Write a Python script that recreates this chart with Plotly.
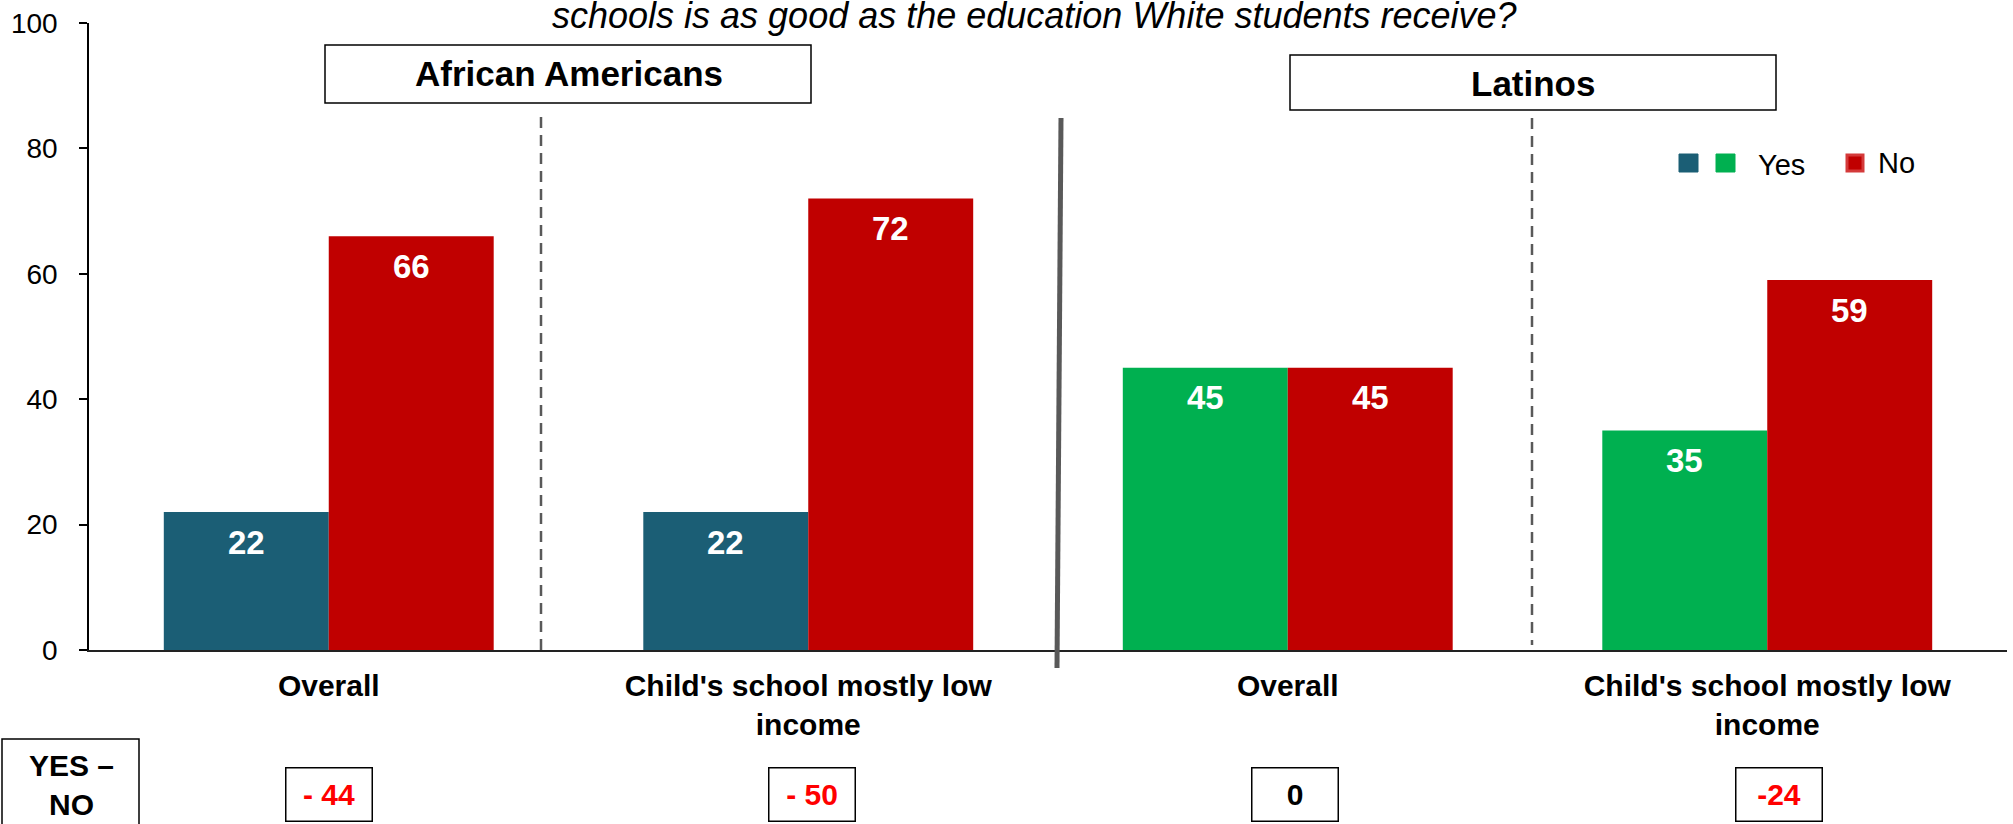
import plotly.graph_objects as go

# ---------------- data ----------------
categories = ["Overall", "Child's school mostly low<br>income", "Overall", "Child's school mostly low<br>income"]
groups = ["African Americans", "African Americans", "Latinos", "Latinos"]
yes_values = [22, 22, 45, 35]
no_values = [66, 72, 45, 59]
diff_labels = ["- 44", "- 50", "0", "-24"]
y_ticks = [0, 20, 40, 60, 80, 100]
title_text = "schools is as good as the education White students receive?"

# ---------------- styling ----------------
W, H = 2013, 824
ML, MR, MT, MB = 89, 6, 23, 174
FONT = "Liberation Sans, Arial, sans-serif"
TEAL = "#1b5e75"
GREEN = "#00b050"
RED = "#c00000"
BAR_GAP = 0.312
GRAY = "#595959"

yes_colors = [TEAL if g == "African Americans" else GREEN for g in groups]
xs = list(range(len(categories)))
half = (1 - BAR_GAP) / 4


def px(x):
    return (x - ML) / (W - ML - MR)


def py(y):
    return (H - MB - y) / (H - MT - MB)


fig = go.Figure()
fig.add_trace(go.Bar(x=xs, y=yes_values, name="Yes", marker=dict(color=yes_colors, line=dict(width=0)),
                     showlegend=False, hoverinfo="y"))
fig.add_trace(go.Bar(x=xs, y=no_values, name="No", marker=dict(color=RED, line=dict(width=0)),
                     showlegend=False, hoverinfo="y"))

annotations = []
# value labels inside bars
for i, (yv, nv) in enumerate(zip(yes_values, no_values)):
    for xv, v in ((i - half, yv), (i + half, nv)):
        annotations.append(dict(x=xv, y=v, xref="x", yref="y", text=f"<b>{v}</b>", showarrow=False,
                                yanchor="middle", yshift=-30,
                                font=dict(family=FONT, size=33, color="white")))

# difference boxes
for i, (yv, nv, lab) in enumerate(zip(yes_values, no_values, diff_labels)):
    d = yv - nv
    annotations.append(dict(x=i + 0.008 * i, y=py(794), xref="x", yref="paper", text=f"<b>{lab}</b>",
                            showarrow=False, xanchor="center", yanchor="middle",
                            width=83, height=50, borderpad=1, borderwidth=1.5, bordercolor="black",
                            bgcolor="white",
                            font=dict(family=FONT, size=30, color="#ff0000" if d < 0 else "black")))

# YES – NO box text
annotations.append(dict(x=px(71), y=py(785), xref="paper", yref="paper", text="<b>YES –<br>NO</b>",
                        showarrow=False, xanchor="center", yanchor="middle",
                        font=dict(family=FONT, size=30, color="black")))

# title (second line visible)
annotations.append(dict(x=px(1034), y=py(15), xref="paper", yref="paper", text=f"<i>{title_text}</i>",
                        showarrow=False, xanchor="center", yanchor="middle",
                        font=dict(family=FONT, size=36, color="black")))

# group headers
annotations.append(dict(x=0.5, y=py(74), xref="x", yref="paper", text="<b>African Americans</b>",
                        showarrow=False, xanchor="center", yanchor="middle",
                        font=dict(family=FONT, size=35, color="black")))
annotations.append(dict(x=2.512, y=py(83), xref="x", yref="paper", text="<b>Latinos</b>",
                        showarrow=False, xanchor="center", yanchor="middle",
                        font=dict(family=FONT, size=35, color="black")))

# legend text
annotations.append(dict(x=px(1756), y=py(165), xref="paper", yref="paper", text="Yes",
                        showarrow=False, xanchor="left", yanchor="middle",
                        font=dict(family=FONT, size=29, color="black")))
annotations.append(dict(x=px(1876), y=py(163), xref="paper", yref="paper", text="No",
                        showarrow=False, xanchor="left", yanchor="middle",
                        font=dict(family=FONT, size=29, color="black")))

shapes = [
    # header boxes
    dict(type="rect", xref="paper", yref="paper", x0=px(325), x1=px(811), y0=py(103), y1=py(45),
         line=dict(color="black", width=1.5), fillcolor="white", layer="below"),
    dict(type="rect", xref="paper", yref="paper", x0=px(1290), x1=px(1776), y0=py(110), y1=py(55),
         line=dict(color="black", width=1.5), fillcolor="white", layer="below"),
    # separators
    dict(type="line", xref="paper", yref="paper", x0=px(541), x1=px(541), y0=py(117), y1=py(657),
         line=dict(color=GRAY, width=2.5, dash="11px,7px")),
    dict(type="line", xref="paper", yref="paper", x0=px(1061), x1=px(1057), y0=py(118), y1=py(668),
         line=dict(color=GRAY, width=5)),
    dict(type="line", xref="paper", yref="paper", x0=px(1532), x1=px(1532), y0=py(118), y1=py(645),
         line=dict(color=GRAY, width=2.5, dash="11px,7px")),
    # YES – NO box
    dict(type="rect", xref="paper", yref="paper", x0=px(2), x1=px(139), y0=py(835), y1=py(739),
         line=dict(color="black", width=1.5)),
    # legend swatches
    dict(type="rect", xref="paper", yref="paper", x0=px(1679), x1=px(1698), y0=py(172), y1=py(154),
         line=dict(color=TEAL, width=1), fillcolor=TEAL),
    dict(type="rect", xref="paper", yref="paper", x0=px(1716), x1=px(1735), y0=py(172), y1=py(154),
         line=dict(color=GREEN, width=1), fillcolor=GREEN),
    dict(type="rect", xref="paper", yref="paper", x0=px(1847), x1=px(1863), y0=py(171), y1=py(155),
         line=dict(color="#d43a3a", width=3), fillcolor=RED),
]

fig.update_layout(
    width=W, height=H,
    margin=dict(l=ML, r=MR, t=MT, b=MB, pad=0),
    paper_bgcolor="white", plot_bgcolor="white",
    barmode="group", bargap=BAR_GAP, bargroupgap=0,
    showlegend=False,
    font=dict(family=FONT, color="black"),
    xaxis=dict(range=[-0.5, 3.5], tickvals=xs, ticktext=[f"<b>{c}</b>" for c in categories],
               showline=True, linecolor="#222222", linewidth=2, ticks="", showgrid=False, zeroline=False,
               tickfont=dict(family=FONT, size=30, color="black"), ticklabelstandoff=8, fixedrange=True),
    yaxis=dict(range=[0, 100], tickvals=y_ticks, showline=True, linecolor="black", linewidth=1.5,
               ticks="outside", ticklen=8, tickwidth=1.5, tickcolor="black", showgrid=False, zeroline=False,
               tickfont=dict(family=FONT, size=28, color="black"), ticklabelstandoff=16, fixedrange=True),
    annotations=annotations,
    shapes=shapes,
)

fig.write_html("out.html", config={"displayModeBar": False},
               post_script="document.body.style.margin='0';document.body.style.overflow='hidden';")
